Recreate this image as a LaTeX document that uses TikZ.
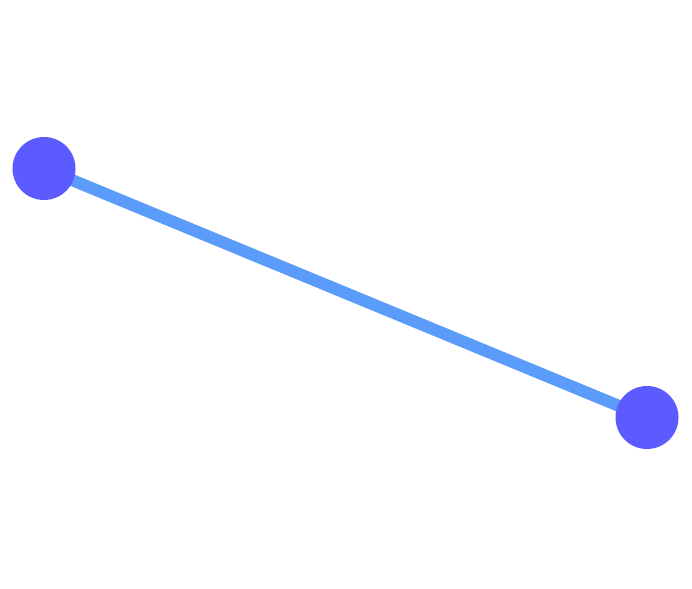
\documentclass[tikz,border=0pt]{standalone}
\usepackage{tikz}
\usetikzlibrary{backgrounds}

\definecolor{dotblue}{HTML}{5B5BFF}
\definecolor{linkblue}{HTML}{5B9BFA}

\tikzset{
  endpoint/.style={circle, fill=dotblue, minimum size=63pt, inner sep=0pt},
  link/.style={linkblue, line width=12pt}
}

\begin{document}
\begin{tikzpicture}[x=1pt, y=-1pt]

\useasboundingbox (0,0) rectangle (692,588);

\node[endpoint] (left) at (44,168.5){};
\node[endpoint] (right) at (647,417.5){};

\begin{pgfonlayer}{background}
\draw[link](left.center)--(right.center);
\end{pgfonlayer}

\end{tikzpicture}
\end{document}
